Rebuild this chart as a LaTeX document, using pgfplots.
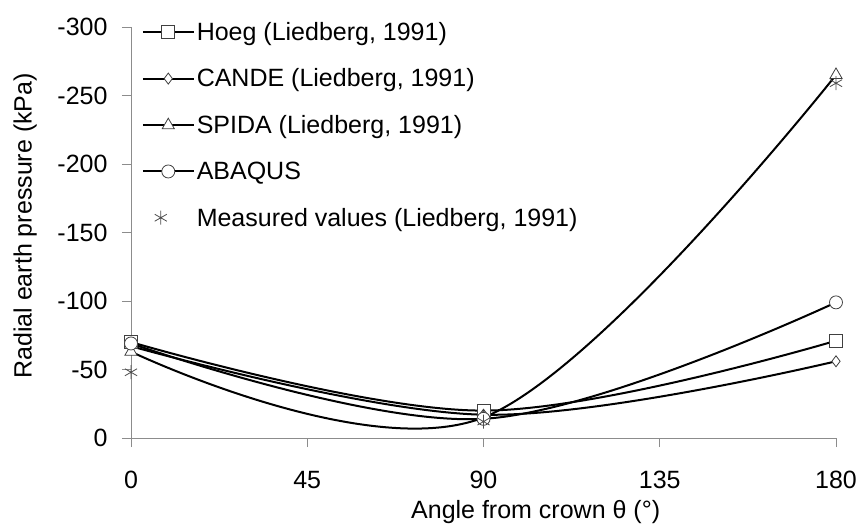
\documentclass[border=0pt]{standalone}
\usepackage{fontspec}
\setmainfont{Liberation Sans}
\usepackage{pgfplots}
\pgfplotsset{compat=1.18}

% radial earth pressure (kPa) at 0, 90, 180 degrees from crown
\pgfplotstableread{
theta p
0   -70
90  -20
180 -71
}\hoeg
\pgfplotstableread{
theta p
0   -67
90  -17
180 -56
}\cande
\pgfplotstableread{
theta p
0   -63
90  -15
180 -265
}\spida
\pgfplotstableread{
theta p
0   -69
90  -14
180 -99
}\abaqus
\pgfplotstableread{
theta p
0   -48
90  -12
180 -259
}\measured

\pgfplotsset{
    longline legend/.style={legend image code/.code={%
        \draw[mark repeat=2, mark phase=2, ##1]
            plot coordinates {(0bp,0bp) (25.5bp,0bp) (51bp,0bp)};}},
    mark legend/.style={legend image code/.code={%
        \draw[##1] plot coordinates {(18bp,0bp)};
        \path (0bp,0bp) (51bp,0bp);}},
    curve/.style={black, line width=2bp, smooth, tension=0.6, longline legend,
        mark options={solid, fill=white, draw=black!75, line width=0.8bp}},
}

\begin{document}
\begin{tikzpicture}
\begin{axis}[
    name=ax,
    scale only axis,
    width=705bp, height=411bp,
    xmin=0, xmax=180,
    ymin=-300, ymax=0,
    y dir=reverse,
    xtick={0,45,90,135,180},
    ytick={-300,-250,-200,-150,-100,-50,0},
    axis x line=bottom, axis y line=left,
    axis line style={-, black!45, line width=0.9bp},
    tick style={black!45, line width=0.9bp},
    tick align=outside,
    major tick length=9bp,
    font=\fontsize{25bp}{30bp}\selectfont,
    /pgf/number format/assume math mode=true,
    yticklabel style={xshift=-11bp},
    xticklabel style={yshift=-21bp},
    xlabel={Angle from crown θ (°)},
    ylabel={Radial earth pressure (kPa)},
    xlabel style={at={(axis description cs:0.574,-0.181)}, anchor=center},
    ylabel style={at={(axis description cs:-0.150,0.516)}, anchor=center},
    legend style={draw=none, fill=none, at={(axis description cs:0.015,1.017)},
        anchor=north west, font=\fontsize{25bp}{30bp}\selectfont, row sep=23bp,
        inner sep=0pt},
    legend cell align=left,
]
\addplot[curve, mark=square*, mark size=6.5bp] table {\hoeg};
\addlegendentry{Hoeg (Liedberg, 1991)}
\addplot[curve, mark=diamond*, mark size=5.5bp] table {\cande};
\addlegendentry{CANDE (Liedberg, 1991)}
\addplot[curve, mark=triangle*, mark size=7bp] table {\spida};
\addlegendentry{SPIDA (Liedberg, 1991)}
\addplot[curve, mark=*, mark size=6.5bp] table {\abaqus};
\addlegendentry{ABAQUS}
\addplot[only marks, mark legend, mark=asterisk, mark size=7bp,
    mark options={draw=black!70, line width=0.8bp}] table {\measured};
\addlegendentry{Measured values (Liedberg, 1991)}
\end{axis}
\pgfresetboundingbox
\path (ax.south west) ++(-131bp,-86bp) rectangle ++(859bp,524bp);
\end{tikzpicture}
\end{document}
